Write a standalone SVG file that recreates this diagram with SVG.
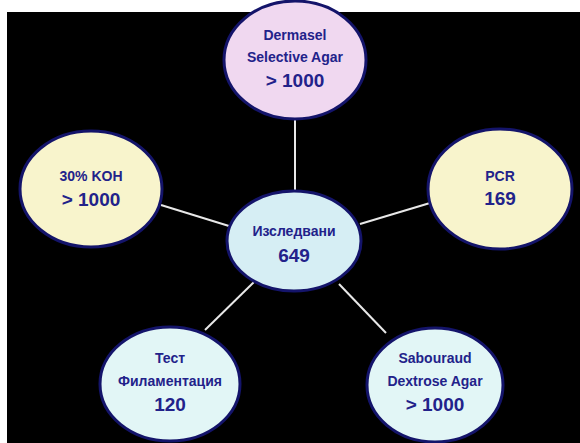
<svg xmlns="http://www.w3.org/2000/svg" width="580" height="443" viewBox="0 0 580 443">
<style>
.n{stroke:#14146a;stroke-width:3}
.t{font-family:"Liberation Sans",Arial,sans-serif;font-weight:bold;fill:#22228a;text-anchor:middle;font-size:14px}
.b{font-size:19px}
.c line{stroke:#e8e8e8;stroke-width:2}
</style>
<rect x="0" y="0" width="580" height="443" fill="#ffffff"/>
<rect x="7" y="12" width="573" height="431" fill="#000000"/>
<g class="c" id="connectors">
<line x1="295" y1="119" x2="295" y2="191"/>
<line x1="161" y1="205" x2="229" y2="226"/>
<line x1="430" y1="203" x2="360" y2="224"/>
<line x1="205" y1="330" x2="254" y2="282"/>
<line x1="339" y1="284" x2="386" y2="333"/>
</g>
<g id="dermasel">
<ellipse class="n" cx="295" cy="60" rx="71" ry="59" fill="#f0d8f0"/>
<text class="t" x="295" y="40">Dermasel</text>
<text class="t" x="295" y="62">Selective Agar</text>
<text class="t b" x="295" y="87">&gt; 1000</text>
</g>
<g id="koh">
<ellipse class="n" cx="91" cy="189" rx="71" ry="58" fill="#f8f4cc"/>
<text class="t" x="91" y="181">30% KOH</text>
<text class="t b" x="91" y="206">&gt; 1000</text>
</g>
<g id="pcr">
<ellipse class="n" cx="500" cy="189" rx="72" ry="60" fill="#f8f4cc"/>
<text class="t" x="500" y="181">PCR</text>
<text class="t b" x="500" y="205">169</text>
</g>
<g id="center">
<ellipse class="n" cx="294" cy="241" rx="67" ry="50" fill="#d6eef4"/>
<text class="t" x="294" y="236">Изследвани</text>
<text class="t b" x="294" y="262">649</text>
</g>
<g id="test">
<ellipse class="n" cx="170" cy="384" rx="70" ry="57" fill="#e2f6f6"/>
<text class="t" x="170" y="363">Тест</text>
<text class="t" x="170" y="386">Филаментация</text>
<text class="t b" x="170" y="411">120</text>
</g>
<g id="sabouraud">
<ellipse class="n" cx="435" cy="385" rx="68" ry="57" fill="#e2f6f6"/>
<text class="t" x="435" y="363">Sabouraud</text>
<text class="t" x="435" y="386">Dextrose Agar</text>
<text class="t b" x="435" y="411">&gt; 1000</text>
</g>
</svg>
